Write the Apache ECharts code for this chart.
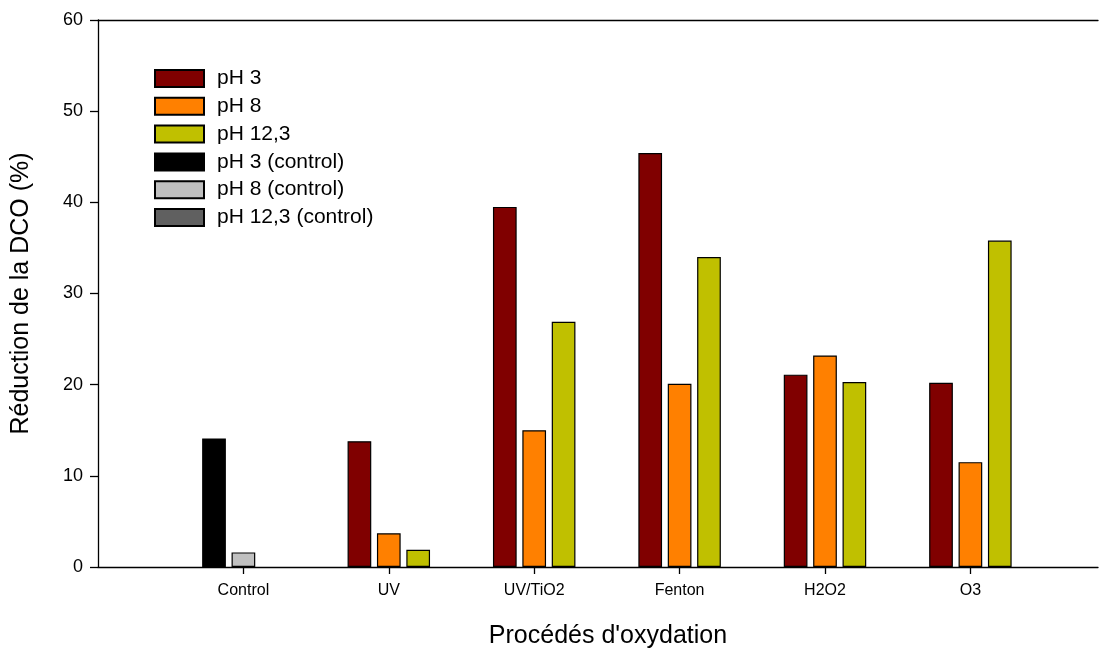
<!DOCTYPE html>
<html>
<head>
<meta charset="utf-8">
<script src="https://cdn.jsdelivr.net/npm/echarts@6/dist/echarts.min.js"></script>
<style>html,body{margin:0;padding:0;background:#fff}#c{width:1107px;height:652px}</style>
</head>
<body>
<div id="c"></div>
<script>
// ---- DATA ----
const categories = ['Control', 'UV', 'UV/TiO2', 'Fenton', 'H2O2', 'O3'];
const yTicks = [0, 10, 20, 30, 40, 50, 60];
const pH3 = [null, 13.8, 39.5, 45.4, 21.1, 20.2];
const pH8 = [null, 3.7, 15.0, 20.1, 23.2, 11.5];
const pH12 = [null, 1.9, 26.9, 34.0, 20.3, 35.8];
const pH3ctrl = [14.1, null, null, null, null, null];
const pH8ctrl = [1.6, null, null, null, null, null];
const pH12ctrl = [null, null, null, null, null, null];
// ---------------

const font = 'Liberation Sans, Arial, sans-serif';
const axisCats = [''].concat(categories);
const pad = arr => [null].concat(arr);

const seriesDefs = [
  {name: 'pH 3', data: pH3, color: '#800000', stack: 'a'},
  {name: 'pH 8', data: pH8, color: '#FF8000', stack: 'b'},
  {name: 'pH 12,3', data: pH12, color: '#C0C000', stack: 'c'},
  {name: 'pH 3 (control)', data: pH3ctrl, color: '#000000', stack: 'a'},
  {name: 'pH 8 (control)', data: pH8ctrl, color: '#C0C0C0', stack: 'b'},
  {name: 'pH 12,3 (control)', data: pH12ctrl, color: '#606060', stack: 'c'}
];

const chart = echarts.init(document.getElementById('c'), null, {renderer: 'canvas'});
chart.setOption({
  animation: false,
  backgroundColor: '#fff',
  textStyle: {fontFamily: font},
  grid: [
    {left: 98, right: 9, top: 20, bottom: 85, containLabel: false, outerBoundsMode: 'none'},
    {left: 98, width: 872.4, top: 20, bottom: 85, containLabel: false, outerBoundsMode: 'none'}
  ],
  legend: {
    orient: 'vertical',
    left: 154, top: 68, padding: 0,
    itemWidth: 49, itemHeight: 17, itemGap: 6.8,
    icon: 'rect',
    textStyle: {fontSize: 21, color: '#000', fontFamily: font, padding: [0, 0, 0, 8]},
    data: seriesDefs.map(s => s.name)
  },
  xAxis: [
    {
      type: 'value', gridIndex: 0, min: 0, max: 1, position: 'bottom',
      axisLine: {show: true, lineStyle: {color: '#000', width: 1.3}},
      axisTick: {show: false}, axisLabel: {show: false}, splitLine: {show: false},
      name: "Procédés d'oxydation", nameLocation: 'middle', nameGap: 57,
      nameTextStyle: {fontSize: 25, color: '#000', fontFamily: font, padding: [0, 0, 0, 20]}
    },
    {
      type: 'value', gridIndex: 0, min: 0, max: 1, position: 'top',
      axisLine: {show: true, onZero: false, lineStyle: {color: '#000', width: 1.3}},
      axisTick: {show: false}, axisLabel: {show: false}, splitLine: {show: false}
    },
    {
      type: 'category', gridIndex: 1, data: axisCats, boundaryGap: false,
      axisLine: {show: false},
      axisTick: {show: true, length: 7, interval: (i) => i > 0, lineStyle: {color: '#000', width: 1.3}},
      axisLabel: {interval: 0, fontSize: 16, color: '#000', margin: 16, fontFamily: font},
      splitLine: {show: false}
    }
  ],
  yAxis: [
    {
      type: 'value', gridIndex: 0, min: 0, max: 60, interval: 10,
      axisLine: {show: true, lineStyle: {color: '#000', width: 1.3}},
      axisTick: {show: true, length: 8, lineStyle: {color: '#000', width: 1.3}},
      axisLabel: {fontSize: 18, color: '#000', margin: 15, fontFamily: font,
        formatter: v => (yTicks.indexOf(v) >= 0 ? String(v) : '')},
      splitLine: {show: false},
      name: 'Réduction de la DCO (%)', nameLocation: 'middle', nameGap: 64, nameRotate: 90,
      nameTextStyle: {fontSize: 25, color: '#000', fontFamily: font}
    },
    {
      type: 'value', gridIndex: 1, min: 0, max: 60, interval: 10,
      axisLine: {show: false}, axisTick: {show: false}, axisLabel: {show: false}, splitLine: {show: false}
    }
  ],
  series: seriesDefs.map(s => ({
    name: s.name, type: 'bar', xAxisIndex: 2, yAxisIndex: 1,
    stack: s.stack, data: pad(s.data),
    barWidth: 23.7, barGap: '24%',
    itemStyle: {color: s.color, borderColor: '#000', borderWidth: 1.2},
    emphasis: {disabled: true}
  }))
});
</script>
</body>
</html>
